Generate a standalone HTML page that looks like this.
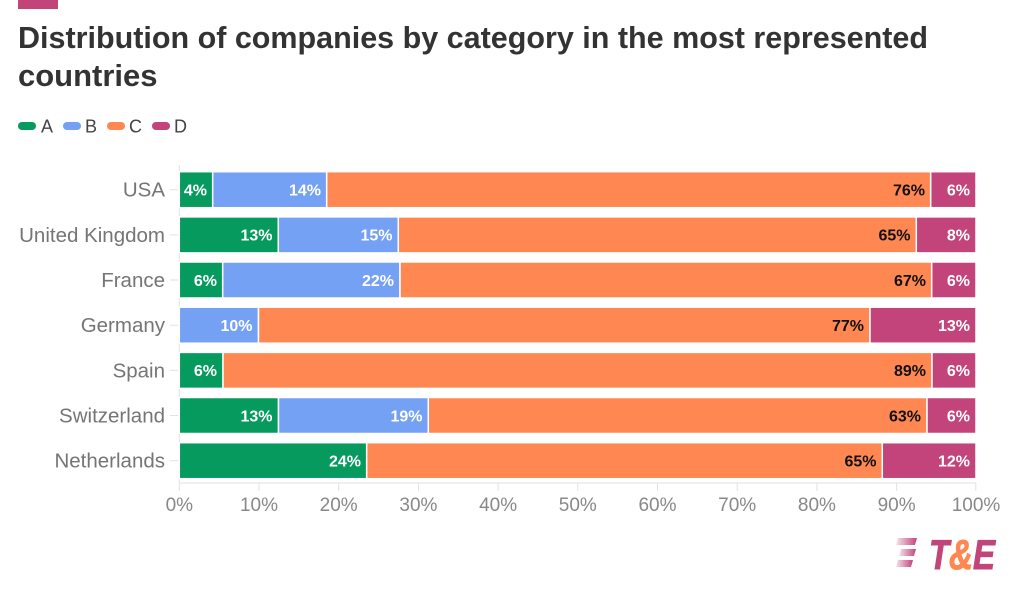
<!DOCTYPE html>
<html><head><meta charset="utf-8"><style>
html,body{margin:0;padding:0;background:#fff;}
svg{display:block;font-family:"Liberation Sans",Arial,sans-serif;}
</style></head><body>
<svg width="1024" height="591" viewBox="0 0 1024 591" xmlns="http://www.w3.org/2000/svg">
<defs>
<linearGradient id="fade" x1="0" x2="1" y1="0" y2="0">
<stop offset="0" stop-color="#c2457a" stop-opacity="0.15"/>
<stop offset="1" stop-color="#c2457a" stop-opacity="1"/>
</linearGradient>
</defs>
<rect x="18" y="0" width="40" height="9" fill="#c2457a"/>
<text x="18" y="48" font-size="31" font-weight="bold" fill="#333" textLength="910" lengthAdjust="spacingAndGlyphs">Distribution of companies by category in the most represented</text>
<text x="18" y="86" font-size="31" font-weight="bold" fill="#333">countries</text>
<!-- legend -->
<g font-size="18" fill="#444">
<rect x="18" y="122" width="18" height="8" rx="4" fill="#079a5f"/><text x="41" y="132.5">A</text>
<rect x="63" y="122" width="18" height="8" rx="4" fill="#74a1f3"/><text x="85" y="132.5">B</text>
<rect x="107" y="122" width="18" height="8" rx="4" fill="#ff8751"/><text x="129" y="132.5">C</text>
<rect x="152" y="122" width="18" height="8" rx="4" fill="#c2447a"/><text x="174" y="132.5">D</text>
</g>
<!-- axes -->
<line x1="179.3" y1="165" x2="179.3" y2="483" stroke="#e2e2e2" stroke-width="1"/>
<line x1="179" y1="483" x2="976" y2="483" stroke="#e2e2e2" stroke-width="1"/>
<g stroke="#e2e2e2" stroke-width="1">
<line x1="179.3" y1="483" x2="179.3" y2="491"/><line x1="259" y1="483" x2="259" y2="491"/><line x1="338.7" y1="483" x2="338.7" y2="491"/><line x1="418.4" y1="483" x2="418.4" y2="491"/><line x1="498.1" y1="483" x2="498.1" y2="491"/><line x1="577.8" y1="483" x2="577.8" y2="491"/><line x1="657.5" y1="483" x2="657.5" y2="491"/><line x1="737.2" y1="483" x2="737.2" y2="491"/><line x1="816.9" y1="483" x2="816.9" y2="491"/><line x1="896.6" y1="483" x2="896.6" y2="491"/><line x1="975.8" y1="483" x2="975.8" y2="491"/>
<line x1="170" y1="189.7" x2="178" y2="189.7"/><line x1="170" y1="234.9" x2="178" y2="234.9"/><line x1="170" y1="280" x2="178" y2="280"/><line x1="170" y1="325.2" x2="178" y2="325.2"/><line x1="170" y1="370.4" x2="178" y2="370.4"/><line x1="170" y1="415.5" x2="178" y2="415.5"/><line x1="170" y1="460.7" x2="178" y2="460.7"/>
</g>
<g font-size="19" fill="#888" text-anchor="middle">
<text x="179.3" y="511">0%</text><text x="259" y="511">10%</text><text x="338.7" y="511">20%</text><text x="418.4" y="511">30%</text><text x="498.1" y="511">40%</text><text x="577.8" y="511">50%</text><text x="657.5" y="511">60%</text><text x="737.2" y="511">70%</text><text x="816.9" y="511">80%</text><text x="896.6" y="511">90%</text><text x="976" y="511">100%</text>
</g>
<g font-size="20.5" fill="#757575" text-anchor="end">
<text x="165" y="196.7">USA</text>
<text x="165" y="241.9">United Kingdom</text>
<text x="165" y="287">France</text>
<text x="165" y="332.2">Germany</text>
<text x="165" y="377.4">Spain</text>
<text x="165" y="422.5">Switzerland</text>
<text x="165" y="467.7">Netherlands</text>
</g>
<!-- bars -->
<g stroke="#fff" stroke-width="1.5">
<rect x="179.3" y="171.7" width="33.4" height="36" fill="#079a5f"/>
<rect x="212.7" y="171.7" width="114" height="36" fill="#74a1f3"/>
<rect x="326.7" y="171.7" width="604" height="36" fill="#ff8751"/>
<rect x="930.7" y="171.7" width="45.3" height="36" fill="#c2447a"/>
<rect x="179.3" y="216.9" width="99" height="36" fill="#079a5f"/>
<rect x="278.3" y="216.9" width="120" height="36" fill="#74a1f3"/>
<rect x="398.3" y="216.9" width="518" height="36" fill="#ff8751"/>
<rect x="916.3" y="216.9" width="59.7" height="36" fill="#c2447a"/>
<rect x="179.3" y="262" width="43.4" height="36" fill="#079a5f"/>
<rect x="222.7" y="262" width="177.3" height="36" fill="#74a1f3"/>
<rect x="400" y="262" width="531.7" height="36" fill="#ff8751"/>
<rect x="931.7" y="262" width="44.3" height="36" fill="#c2447a"/>
<rect x="179.3" y="307.2" width="79.2" height="36" fill="#74a1f3"/>
<rect x="258.5" y="307.2" width="611.5" height="36" fill="#ff8751"/>
<rect x="870" y="307.2" width="106" height="36" fill="#c2447a"/>
<rect x="179.3" y="352.4" width="43.7" height="36" fill="#079a5f"/>
<rect x="223" y="352.4" width="709" height="36" fill="#ff8751"/>
<rect x="932" y="352.4" width="44" height="36" fill="#c2447a"/>
<rect x="179.3" y="397.5" width="99.2" height="36" fill="#079a5f"/>
<rect x="278.5" y="397.5" width="149.8" height="36" fill="#74a1f3"/>
<rect x="428.3" y="397.5" width="498.7" height="36" fill="#ff8751"/>
<rect x="927" y="397.5" width="49" height="36" fill="#c2447a"/>
<rect x="179.3" y="442.7" width="187.4" height="36" fill="#079a5f"/>
<rect x="366.7" y="442.7" width="515.6" height="36" fill="#ff8751"/>
<rect x="882.3" y="442.7" width="93.7" height="36" fill="#c2447a"/>
</g>
<!-- bar labels -->
<g font-size="16" font-weight="bold" text-anchor="end" fill="#fff">
<text x="207" y="195.5">4%</text><text x="321" y="195.5">14%</text><text x="970" y="195.5">6%</text>
<text x="272.5" y="240.7">13%</text><text x="392.5" y="240.7">15%</text><text x="970" y="240.7">8%</text>
<text x="217" y="285.8">6%</text><text x="394" y="285.8">22%</text><text x="970" y="285.8">6%</text>
<text x="252.5" y="331">10%</text><text x="970" y="331">13%</text>
<text x="217" y="376.2">6%</text><text x="970" y="376.2">6%</text>
<text x="272.5" y="421.3">13%</text><text x="422.5" y="421.3">19%</text><text x="970" y="421.3">6%</text>
<text x="361" y="466.5">24%</text><text x="970" y="466.5">12%</text>
</g>
<g font-size="16" font-weight="bold" text-anchor="end" fill="#111">
<text x="925" y="195.5">76%</text>
<text x="910.5" y="240.7">65%</text>
<text x="926" y="285.8">67%</text>
<text x="864" y="331">77%</text>
<text x="926" y="376.2">89%</text>
<text x="921" y="421.3">63%</text>
<text x="876.5" y="466.5">65%</text>
</g>
<!-- logo -->
<g fill="url(#fade)">
<polygon points="898,538 917,538 915,545 896,545"/>
<polygon points="901,549 916,549 914,556 899,556"/>
<polygon points="898,560 913,560 911,567 896,567"/>
</g>
<text x="929" y="569" font-size="42" font-weight="bold" font-style="italic" fill="#c2457a" stroke="#c2457a" stroke-width="1" textLength="66" lengthAdjust="spacingAndGlyphs">T<tspan fill="#ff8751" stroke="#ff8751">&amp;</tspan>E</text>
</svg>
</body></html>
